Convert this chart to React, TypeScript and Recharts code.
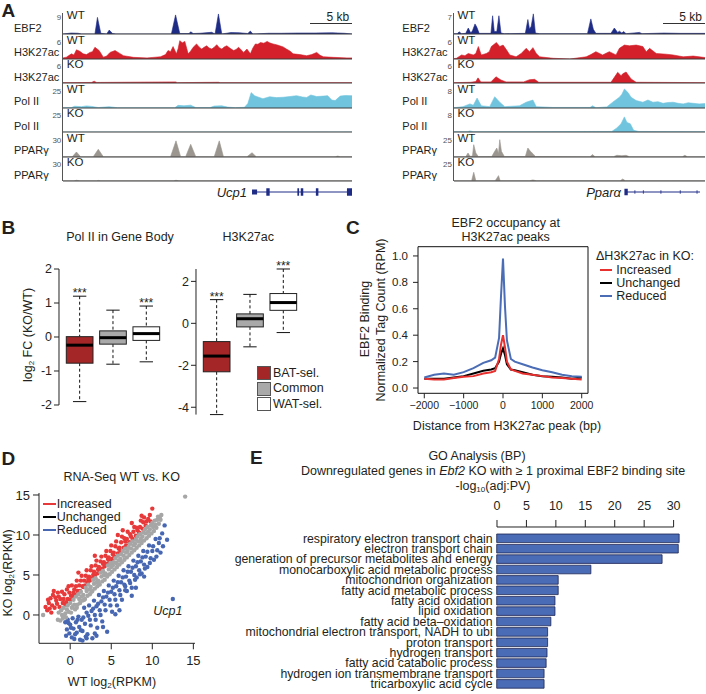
import React from 'react';
import {
  AreaChart, Area, XAxis, YAxis, ReferenceLine, ReferenceArea,
  ComposedChart, Bar, LineChart, Line, ScatterChart, Scatter, BarChart,
} from 'recharts';

const FONT = '"Liberation Sans", Arial, Helvetica, sans-serif';
const INK = '#231f20';

// ---------- A: browser tracks, each point is [kb from left edge, signal] ----------
const ucp1LenKb = 34.4;
const pparaLenKb = 29.9;
const trackNames = ['EBF2', 'H3K27ac', 'H3K27ac', 'Pol II', 'Pol II', 'PPARγ', 'PPARγ'];
const trackConds = ['WT', 'WT', 'KO', 'WT', 'KO', 'WT', 'KO'];
const trackColors = ['#1f2c86', '#d3202a', '#d3202a', '#70c4de', '#70c4de', '#9b968f', '#9b968f'];
const ucp1Scales = [9, 6, 6, 25, 25, 30, 30];
const pparaScales = [7, 6, 6, 8, 8, 25, 25];

const ucp1Ebf2Wt = [[0, 0], [1.0, 0.4], [1.8, 0.3], [2.2, 0], [3.8, 0], [4.1, 6.8], [4.5, 0.3], [5.2, 0], [5.5, 1.6], [5.9, 0.2], [6.3, 0], [12.9, 0], [13.4, 7.8], [13.9, 0.2], [15.0, 0.2], [15.2, 0.9], [15.5, 0.2], [16.3, 0.3], [17.7, 0.7], [18.1, 0], [18.5, 8.2], [18.9, 0], [20.0, 0.6], [21.0, 0.5], [22.0, 0.2], [22.3, 1.2], [22.6, 0], [24.5, 0.3], [26, 0.3], [28, 0.4], [30, 0.4], [32, 0.5], [33.5, 0.3], [34.4, 0]];
const ucp1AcWt = [[0, 0.3], [0.4, 0.5], [1.0, 1.4], [1.3, 1.1], [1.6, 2.5], [2.0, 2.1], [2.4, 1.4], [2.8, 1.2], [3.2, 1.8], [3.5, 2.0], [3.8, 3.2], [4.3, 2.3], [4.8, 0.5], [5.2, 0.8], [5.6, 1.8], [6.2, 2.3], [6.7, 1.6], [7.2, 0.9], [8.4, 0.45], [10.0, 0.3], [11.6, 0.6], [12.2, 1.2], [12.5, 2.3], [12.8, 2.0], [13.1, 3.4], [13.5, 1.4], [13.7, 2.8], [13.9, 5.0], [14.2, 4.4], [14.5, 4.8], [14.9, 1.4], [15.2, 2.2], [15.5, 3.2], [15.9, 4.1], [16.2, 3.3], [16.5, 2.7], [16.8, 3.2], [17.1, 3.6], [17.4, 3.0], [17.7, 2.7], [18.0, 3.2], [18.3, 3.9], [18.6, 3.1], [18.9, 2.7], [19.2, 3.3], [19.5, 3.6], [19.9, 2.9], [20.3, 2.3], [20.6, 2.6], [20.9, 3.2], [21.2, 2.5], [21.5, 1.8], [21.9, 2.7], [22.3, 1.4], [22.6, 3.0], [22.9, 4.1], [23.2, 4.0], [23.5, 4.5], [23.9, 4.3], [24.3, 4.8], [24.6, 4.4], [25.0, 4.1], [25.4, 3.9], [25.8, 3.6], [26.2, 3.3], [26.6, 2.7], [27.0, 2.2], [27.4, 1.4], [28.2, 1.2], [29.0, 0.9], [29.6, 1.2], [30.2, 1.8], [30.6, 1.0], [31.0, 0.6], [32.2, 0.45], [33.8, 0.3], [34.4, 0.3]];
const ucp1AcKo = [[0, 0.1], [3.4, 0.15], [3.7, 0.5], [4.0, 0.15], [13.4, 0.3], [13.6, 0.1], [18.5, 0.2], [18.7, 0.1], [34.4, 0.1]];
const ucp1PolWt = [[0, 0.3], [1.0, 0.5], [1.4, 2.0], [2.2, 1.5], [2.8, 2.4], [3.4, 1.8], [4.2, 0.5], [5.5, 1.5], [6.5, 0.3], [13.3, 0.3], [13.7, 3.0], [14.4, 2.5], [15.2, 3.2], [15.8, 0.5], [17.5, 0.5], [18.0, 2.2], [18.9, 2.5], [19.6, 1.0], [20.5, 0.4], [21.6, 0.8], [22.0, 5.0], [22.4, 17.5], [22.8, 14.0], [23.2, 12.5], [23.8, 10.5], [24.6, 12.8], [25.4, 11.8], [26.2, 12.2], [27.0, 13.0], [27.8, 14.0], [28.5, 12.5], [29.0, 12.0], [29.5, 14.8], [30.2, 13.0], [31.0, 13.5], [31.5, 14.0], [32.0, 9.0], [32.4, 8.5], [33.0, 13.5], [33.6, 14.2], [34.4, 14.0]];
const ucp1PolKo = [[0, 0], [34.4, 0.1]];
const ucp1PpargWt = [[0, 0.3], [1.1, 0.3], [1.6, 6.8], [2.1, 0.3], [3.6, 0.3], [4.2, 10.5], [4.8, 0.3], [12.8, 0.3], [13.45, 22], [14.0, 0.5], [14.6, 0.5], [15.2, 17.3], [15.8, 0.5], [18.0, 0.3], [18.6, 22], [19.1, 0.3], [21.9, 0.3], [22.5, 5.9], [23.0, 0.3], [32.4, 0.3], [32.7, 1.2], [33.0, 0.3], [34.4, 0.3]];
const ucp1PpargKo = [[0, 0.2], [1.3, 0.2], [1.6, 1.0], [2.0, 0.2], [4.0, 0.2], [4.2, 0.8], [4.5, 0.2], [13.2, 0.2], [13.45, 1.0], [13.8, 0.2], [34.4, 0.2]];

const pparaEbf2Wt = [[0, 0.1], [0.4, 0.1], [0.6, 0.7], [0.9, 0.1], [1.4, 0.2], [1.7, 1.9], [2.0, 0.3], [2.2, 1.0], [2.5, 3.2], [2.7, 2.3], [3.0, 0.2], [4.4, 0.2], [4.6, 5.8], [4.8, 0.8], [5.1, 0.8], [5.35, 5.8], [5.6, 0.3], [6.0, 0.1], [8.5, 0.2], [8.8, 4.6], [9.0, 1.5], [9.2, 2.5], [9.45, 6.4], [9.7, 0.3], [10.2, 0.1], [15.9, 0.1], [16.3, 4.8], [16.6, 1.5], [16.9, 0.2], [18.7, 0.2], [19.1, 1.9], [19.5, 0.5], [19.7, 0.9], [20.0, 0.3], [20.2, 0.8], [20.5, 0.1], [22.1, 0.5], [22.4, 0.1], [25, 0.3], [27, 0.2], [29.9, 0.2]];
const pparaAcWt = [[0, 0.1], [0.3, 0.2], [0.9, 1.1], [1.3, 0.9], [1.7, 1.5], [2.3, 1.1], [2.6, 1.5], [2.9, 3.4], [3.25, 1.1], [3.85, 1.5], [4.2, 2.0], [4.45, 3.4], [5.05, 4.5], [5.45, 3.4], [5.85, 3.8], [6.25, 2.5], [6.65, 1.1], [7.4, 0.6], [8.0, 1.5], [8.6, 2.9], [9.0, 2.0], [9.4, 3.1], [9.8, 1.5], [10.2, 0.6], [11.8, 0.2], [13.8, 0.0], [15.75, 0.6], [16.3, 1.2], [16.9, 2.0], [17.7, 1.1], [18.5, 2.0], [19.3, 1.1], [19.7, 2.9], [20.3, 3.8], [20.9, 3.6], [21.7, 3.8], [22.5, 3.4], [22.9, 2.0], [23.3, 2.9], [24.1, 1.5], [25.3, 1.3], [26.1, 1.1], [27.3, 0.6], [28.5, 0.8], [29.9, 0.4]];
const pparaAcKo = [[0, 0.1], [2.0, 0.2], [2.6, 0.4], [2.86, 1.4], [3.2, 0.3], [4.4, 0.3], [5.0, 1.7], [5.6, 0.8], [6.2, 0.3], [8.3, 0.3], [9.0, 0.9], [9.6, 1.0], [10.1, 0.2], [18.7, 0.2], [19.5, 2.9], [19.9, 2.0], [20.1, 2.5], [20.5, 3.0], [21.1, 1.1], [21.7, 0.2], [29.9, 0.1]];
const pparaPolWt = [[0, 0.1], [1.07, 0.5], [1.9, 1.5], [2.3, 1.0], [2.75, 3.6], [3.25, 0.8], [4.25, 0.5], [4.85, 4.1], [5.45, 2.1], [6.05, 0.5], [7.8, 0.8], [8.6, 2.1], [9.4, 2.9], [9.8, 0.5], [11.8, 0.2], [16.2, 0.2], [16.5, 0.8], [16.9, 0.1], [18.2, 0.4], [18.9, 2.1], [19.7, 3.9], [20.0, 5.0], [20.3, 6.9], [20.7, 5.7], [21.1, 3.9], [21.7, 2.7], [22.5, 2.1], [23.1, 2.9], [23.7, 2.1], [24.3, 2.3], [24.9, 1.7], [25.5, 2.0], [26.1, 2.1], [26.7, 1.7], [27.3, 1.5], [27.9, 1.9], [28.5, 1.7], [29.2, 1.5], [29.9, 1.6]];
const pparaPolKo = [[0, 0.1], [1.6, 0.1], [1.9, 0.4], [2.3, 0.1], [18.8, 0.2], [19.4, 1.5], [19.9, 3.0], [20.3, 5.5], [20.6, 3.5], [21.0, 3.0], [21.4, 0.6], [22.0, 0.2], [29.9, 0.1]];
const pparaPpargWt = [[0, 0.3], [1.4, 0.3], [1.67, 4.5], [1.9, 0.8], [2.2, 1.0], [2.35, 14], [2.6, 4.5], [2.9, 0.5], [4.5, 0.5], [4.85, 6.4], [5.1, 10.2], [5.3, 4.0], [5.45, 19.7], [5.65, 6.4], [6.0, 0.5], [8.5, 0.5], [8.8, 10.2], [9.1, 6.4], [9.4, 3.8], [9.7, 0.5], [16.2, 0.3], [16.5, 2.7], [16.8, 0.3], [19.0, 0.4], [19.4, 1.9], [20.0, 1.5], [20.5, 1.9], [20.9, 0.3], [27.2, 0.3], [27.5, 1.9], [27.8, 0.3], [29.9, 0.3]];
const pparaPpargKo = [[0, 0.2], [2.1, 0.3], [2.35, 9.9], [2.6, 0.3], [4.9, 0.3], [5.1, 3.0], [5.3, 6.1], [5.5, 0.3], [9.0, 0.3], [9.4, 1.2], [9.8, 0.3], [19.8, 0.3], [20.1, 2.3], [20.4, 0.3], [29.9, 0.2]];

// gene models: [kb, half height of the feature starting there]
const ucp1Gene = [[22.5, 0.35], [23.1, 0.07], [24.2, 0.55], [24.6, 0.07], [27.9, 0.55], [28.1, 0.07], [28.3, 0.55], [28.6, 0.07], [30.1, 0.55], [30.4, 0.07], [33.8, 0.55], [34.4, 0.55]];
const pparaGene = [[20.3, 0.45], [20.7, 0.07], [21.5, 0.25], [21.6, 0.07], [22.5, 0.25], [22.6, 0.07], [24.6, 0.25], [24.7, 0.07], [26.9, 0.25], [27.0, 0.07], [28.9, 0.25], [29.0, 0.07], [29.3, 0.07]];

// ---------- B: box plots ----------
const boxGroups = ['BAT-sel.', 'Common', 'WAT-sel.'];
const boxFills = ['#a52626', '#a9a9a9', '#ffffff'];
const polLow = [-1.9, -0.8, -0.73];
const polQ1 = [-0.77, -0.21, -0.1];
const polMedian = [-0.24, -0.02, 0.1];
const polQ3 = [0.01, 0.18, 0.3];
const polHigh = [1.2, 0.79, 0.91];
const polStars = ['***', '', '***'];
const acLow = [-4.35, -1.12, -0.44];
const acQ1 = [-2.31, -0.17, 0.62];
const acMedian = [-1.56, 0.22, 0.99];
const acQ3 = [-0.87, 0.45, 1.42];
const acHigh = [1.13, 1.38, 2.59];
const acStars = ['***', '', '***'];

// ---------- C: EBF2 occupancy profile ----------
const distanceBp = [-2000, -1750, -1500, -1250, -1000, -750, -500, -300, -200, -100, -50, 0, 50, 100, 200, 300, 500, 750, 1000, 1250, 1500, 1750, 2000];
const occIncreased = [0.07, 0.065, 0.065, 0.075, 0.085, 0.09, 0.11, 0.12, 0.13, 0.22, 0.33, 0.40, 0.31, 0.2, 0.14, 0.13, 0.11, 0.10, 0.09, 0.08, 0.075, 0.07, 0.065];
const occUnchanged = [0.07, 0.07, 0.07, 0.08, 0.09, 0.11, 0.13, 0.14, 0.15, 0.20, 0.26, 0.30, 0.25, 0.18, 0.14, 0.135, 0.12, 0.10, 0.09, 0.085, 0.08, 0.07, 0.08];
const occReduced = [0.08, 0.10, 0.11, 0.10, 0.12, 0.15, 0.19, 0.21, 0.23, 0.38, 0.70, 0.98, 0.62, 0.36, 0.22, 0.20, 0.18, 0.155, 0.135, 0.12, 0.10, 0.09, 0.085];

// ---------- D: RNA-seq scatter, [WT log2 RPKM, KO log2 RPKM] ----------
const increasedGenes = [[-3.0, 1.0], [-2.8, 0.6], [-2.7, 1.9], [-2.5, 0.8], [-2.4, 2.1], [-2.2, 1.2], [-2.1, 2.5], [-1.9, 0.9], [-1.8, 2.2], [-1.6, 1.4], [-1.5, 2.8], [-1.3, 1.0], [-1.2, 2.0], [-1.0, 2.9], [-0.9, 1.5], [-0.7, 2.6], [-0.6, 1.3], [-0.4, 3.2], [-0.3, 2.0], [-0.1, 2.8], [0.0, 1.9], [0.2, 3.7], [0.3, 2.4], [0.5, 3.2], [0.6, 2.5], [0.8, 4.3], [0.9, 3.0], [1.1, 3.7], [1.2, 3.0], [1.4, 4.9], [1.5, 3.6], [1.7, 4.3], [1.8, 3.7], [2.0, 5.6], [2.1, 4.1], [2.3, 4.8], [2.4, 4.3], [2.6, 6.1], [2.7, 4.6], [2.9, 5.4], [3.0, 4.9], [3.2, 6.8], [3.3, 5.2], [3.5, 6.0], [3.6, 5.5], [3.8, 7.3], [3.9, 5.8], [4.1, 6.6], [4.2, 6.1], [4.4, 8.0], [4.5, 6.4], [4.7, 7.2], [4.8, 6.7], [5.0, 8.7], [5.1, 7.0], [5.3, 7.8], [5.4, 7.3], [5.6, 9.2], [5.8, 7.7], [6.0, 8.4], [6.1, 8.0], [6.3, 9.8], [6.5, 8.4], [6.7, 9.2], [6.8, 8.7], [7.0, 10.4], [7.2, 9.1], [7.4, 9.8], [7.6, 9.5], [7.8, 11.0], [8.0, 9.9], [8.2, 10.6], [8.4, 10.3], [8.6, 11.8], [8.8, 10.8], [9.0, 12.2], [9.2, 11.2], [9.5, 12.0], [9.8, 11.7], [10.0, 13.3], [1.0, 5.3], [3.0, 7.4], [5.8, 10.0], [-2.0, 3.0],
  [-2.6, 1.5], [-2.3, 0.3], [-1.7, 1.8], [-1.4, 2.3], [-0.8, 2.0], [-0.5, 1.6], [-0.2, 3.6], [0.1, 2.4], [0.4, 2.8], [0.7, 3.6], [1.0, 2.9], [1.3, 4.3], [1.6, 3.5], [1.9, 4.9], [2.2, 4.5], [2.5, 5.6], [2.8, 5.0], [3.1, 6.2], [3.4, 5.7], [3.7, 6.7], [4.0, 6.4], [4.3, 7.4], [4.6, 7.0], [4.9, 8.0], [5.2, 7.6], [5.5, 8.6], [5.9, 8.3], [6.2, 9.1], [6.6, 9.6], [6.9, 9.5], [7.3, 10.1], [7.7, 10.4], [8.1, 10.9], [8.5, 11.0], [8.9, 11.6], [9.3, 11.7], [9.7, 12.5], [8.7, 12.4], [7.5, 11.5], [6.4, 10.6]];
const unchangedGenes = [[-3.3, 0.0], [-1.5, -0.6], [-1.4, 0.3], [-1.2, -0.7], [-1.1, 0.6], [-0.9, -0.4], [-0.8, 0.9], [-0.6, 0.2], [-0.5, -0.3], [-0.3, 1.2], [-0.2, 0.4], [0.0, 1.5], [0.1, 0.3], [0.3, 1.0], [0.4, 1.9], [0.6, 0.7], [0.7, 2.3], [0.9, 1.3], [1.0, 2.6], [1.2, 1.5], [1.3, 2.9], [1.5, 1.8], [1.6, 2.5], [1.8, 2.0], [1.9, 3.4], [2.1, 2.4], [2.2, 3.8], [2.4, 2.6], [2.5, 3.5], [2.7, 3.0], [2.8, 4.4], [3.0, 3.3], [3.1, 4.6], [3.3, 3.6], [3.4, 4.3], [3.6, 3.8], [3.7, 5.3], [3.9, 4.2], [4.0, 5.5], [4.2, 4.4], [4.3, 5.2], [4.5, 4.8], [4.6, 6.2], [4.8, 5.1], [4.9, 6.5], [5.1, 5.4], [5.2, 6.2], [5.4, 5.7], [5.5, 7.1], [5.7, 6.0], [5.8, 7.4], [6.0, 6.3], [6.1, 7.0], [6.3, 6.6], [6.4, 8.0], [6.6, 6.9], [6.7, 8.3], [6.9, 7.2], [7.0, 8.0], [7.2, 7.5], [7.3, 8.9], [7.5, 7.8], [7.6, 9.2], [7.8, 8.1], [7.9, 8.9], [8.1, 8.4], [8.2, 9.8], [8.4, 8.7], [8.5, 10.1], [8.7, 9.0], [8.8, 9.8], [9.0, 9.3], [9.1, 10.7], [9.3, 9.6], [9.4, 11.0], [9.6, 9.9], [9.7, 10.7], [9.9, 10.2], [10.0, 11.5], [10.2, 10.5], [10.3, 11.8], [10.5, 10.9], [10.6, 11.9], [10.8, 11.4], [10.9, 12.2], [11.1, 12.5], [14.0, 14.8],
  [-1.0, 0.0], [-0.7, -0.2], [-0.4, 0.7], [0.2, 0.9], [0.5, 1.3], [0.8, 0.9], [1.1, 2.0], [1.4, 2.3], [1.7, 1.9], [2.0, 3.0], [2.3, 3.2], [2.6, 2.9], [2.9, 3.9], [3.2, 4.1], [3.5, 3.9], [3.8, 4.8], [4.1, 5.0], [4.4, 5.0], [4.7, 5.7], [5.0, 6.0], [5.3, 6.6], [5.6, 6.5], [5.9, 6.8], [6.2, 7.6], [6.5, 7.4], [6.8, 7.8], [7.1, 8.5], [7.4, 8.3], [7.7, 8.7], [8.0, 9.4], [8.3, 9.2], [8.6, 9.5], [8.9, 10.3], [9.2, 10.2], [9.5, 10.4], [9.8, 11.2], [10.1, 11.0], [10.4, 11.3], [10.7, 12.3], [11.0, 11.9]];
const reducedGenes = [[-0.6, -0.9], [-0.4, -1.8], [-0.3, -0.6], [-0.1, -2.3], [0.0, -1.2], [0.2, -2.8], [0.3, -0.4], [0.4, -1.7], [0.5, -3.0], [0.7, -0.9], [0.8, -2.2], [1.0, -0.2], [1.1, -1.5], [1.2, -3.1], [1.4, -0.6], [1.5, -2.0], [1.7, 0.9], [1.8, -1.1], [2.0, 0.3], [2.1, -2.4], [2.3, 1.2], [2.4, -0.6], [2.6, 0.5], [2.7, -2.9], [2.9, 1.8], [3.0, 0.0], [3.2, 1.1], [3.3, -1.6], [3.5, 2.5], [3.6, 0.6], [3.8, 1.7], [3.9, -0.8], [4.1, 3.0], [4.2, 1.3], [4.4, 2.3], [4.5, -2.1], [4.7, 3.7], [4.8, 1.9], [5.0, 2.9], [5.1, 0.4], [5.3, 4.3], [5.4, 2.6], [5.6, 3.6], [5.7, 1.2], [5.9, 4.9], [6.0, 3.1], [6.2, 4.1], [6.3, 1.9], [6.5, 5.6], [6.6, 3.8], [6.8, 4.8], [6.9, 3.0], [7.1, 6.1], [7.2, 4.3], [7.4, 5.4], [7.5, 3.4], [7.7, 6.8], [7.8, 5.0], [8.0, 6.1], [8.1, 4.7], [8.3, 7.4], [8.4, 5.6], [8.6, 6.7], [8.7, 5.2], [8.9, 8.0], [9.0, 6.3], [9.2, 7.3], [9.4, 6.0], [9.6, 8.7], [9.8, 7.1], [10.0, 8.0], [10.2, 6.9], [10.4, 9.5], [10.6, 8.1], [10.8, 9.0], [11.0, 7.8], [11.2, 10.2], [11.5, 11.2], [11.8, 9.4], [12.5, 2.0], [6.7, 3.1], [7.5, 2.4], [4.0, -1.5], [3.2, -2.6], [2.0, -2.9], [5.5, 0.1], [9.0, 4.8],
  [-0.5, -2.6], [-0.2, -1.0], [0.1, -1.6], [0.6, -2.4], [0.9, -0.6], [1.3, -1.9], [1.6, -0.3], [1.9, -2.7], [2.2, -0.1], [2.5, -1.3], [2.8, 0.8], [3.1, -0.6], [3.4, 1.4], [3.7, 0.0], [4.0, 2.2], [4.3, 0.6], [4.6, 2.8], [4.9, 1.2], [5.2, 3.4], [5.5, 1.9], [5.8, 4.1], [6.1, 2.5], [6.4, 4.7], [6.7, 3.6], [7.0, 5.4], [7.3, 4.0], [7.6, 5.9], [7.9, 4.4], [8.2, 6.6], [8.5, 5.1], [8.8, 7.2], [9.1, 5.8], [9.4, 7.9], [9.7, 6.5], [10.1, 8.6], [10.5, 7.3], [10.9, 9.6], [11.3, 8.6], [1.5, -3.2], [3.0, -2.3], [6.0, 0.6], [8.0, 3.4]];

// ---------- E: GO terms ----------
const goTerms = ['respiratory electron transport chain', 'electron transport chain', 'generation of precursor metabolites and energy', 'monocarboxylic acid metabolic process', 'mitochondrion organization', 'fatty acid metabolic process', 'fatty acid oxidation', 'lipid oxidation', 'fatty acid beta\u2013oxidation', 'mitochondrial electron transport, NADH to ubi', 'proton transport', 'hydrogen transport', 'fatty acid catabolic process', 'hydrogen ion transmembrane transport', 'tricarboxylic acid cycle'];
const goScores = [31.0, 30.85, 28.1, 16.0, 10.45, 10.45, 9.9, 9.9, 9.2, 8.65, 8.65, 8.55, 8.4, 8.05, 8.05];
const goTicks = [0, 5, 10, 15, 20, 25, 30];

const TRACK_BASE0 = 34;
const TRACK_STEP = 24.5;
const NAVY = '#1f2c86';

function T({ x, y, children, size = 12.5, align = 'left', bold = false, italic = false, rot = false, color = INK }: any) {
  const tx = align === 'left' ? '0' : align === 'right' ? '-100%' : '-50%';
  return (
    <div
      style={{
        position: 'absolute', left: x, top: y, whiteSpace: 'nowrap', lineHeight: 1,
        fontSize: size, fontWeight: bold ? 700 : 400, fontStyle: italic ? 'italic' : 'normal', color,
        transform: rot ? 'translate(-50%, -50%) rotate(-90deg)' : `translate(${tx}, -50%)`,
      }}
    >
      {children}
    </div>
  );
}

const Sub = ({ children }: any) => (
  <span style={{ fontSize: '0.65em', verticalAlign: '-0.3em', lineHeight: 0 }}>{children}</span>
);

function Track({ points, max, color, lenKb, width }: any) {
  const data = points.map(([kb, v]: number[]) => ({ kb, v }));
  return (
    <AreaChart width={width} height={25} data={data} margin={{ top: 2, right: 0, bottom: 1, left: 0 }}>
      <XAxis type="number" dataKey="kb" domain={[0, lenKb]} hide />
      <YAxis type="number" domain={[0, max]} hide allowDataOverflow />
      <Area type="linear" dataKey="v" stroke={color} strokeWidth={0.6} fill={color} fillOpacity={1} dot={false} activeDot={false} isAnimationActive={false} />
      <ReferenceLine y={0} stroke="#3c3c3c" strokeWidth={1} />
    </AreaChart>
  );
}

function GeneModel({ parts, lenKb, width }: any) {
  const data = parts.map(([kb, h]: number[]) => ({ kb, band: [-h, h] }));
  return (
    <AreaChart width={width} height={14} data={data} margin={{ top: 0, right: 0, bottom: 0, left: 0 }}>
      <XAxis type="number" dataKey="kb" domain={[0, lenKb]} hide />
      <YAxis type="number" domain={[-1, 1]} hide />
      <Area type="stepAfter" dataKey="band" stroke="none" fill={NAVY} fillOpacity={1} dot={false} activeDot={false} isAnimationActive={false} />
    </AreaChart>
  );
}

function Locus({ axisX, width, lenKb, tracks, scales, nameX, parts, gene }: any) {
  const right = axisX + width;
  return (
    <>
      <div style={{ position: 'absolute', left: axisX - 1, top: 13, width: 1, height: 168, background: '#555' }} />
      {tracks.map((pts: number[][], i: number) => {
        const base = TRACK_BASE0 + i * TRACK_STEP;
        return (
          <React.Fragment key={i}>
            <T x={nameX} y={base - 6.5} size={11}>{trackNames[i]}</T>
            <T x={axisX - 2} y={base - 15.8} size={8} align="right" color="#555">{scales[i]}</T>
            <div style={{ position: 'absolute', left: axisX, top: base - 24 }}>
              <Track points={pts} max={scales[i]} color={trackColors[i]} lenKb={lenKb} width={width} />
            </div>
            <T x={axisX + 3.5} y={base - 18} size={11.5}>{trackConds[i]}</T>
          </React.Fragment>
        );
      })}
      <div style={{ position: 'absolute', left: right - 42, top: 22.5, width: 42, height: 1, background: '#333' }} />
      <T x={right - 3} y={16.5} align="right" size={12}>5 kb</T>
      <div style={{ position: 'absolute', left: axisX, top: 185 }}>
        <GeneModel parts={parts} lenKb={lenKb} width={width} />
      </div>
      <T x={gene.x} y={192} italic align="right" size={13}>{gene.name}</T>
    </>
  );
}

function BoxShape(props: any) {
  const { x, y, width, height, payload } = props;
  if (x == null || payload == null) return null;
  const top = Math.min(y, y + height);
  const h = Math.abs(height);
  const [lo, hi] = payload.range;
  const py = (v: number) => top + ((hi - v) / (hi - lo)) * h;
  const cx = x + width / 2;
  const cap = width / 4;
  return (
    <g>
      <line x1={cx} x2={cx} y1={py(hi)} y2={py(payload.q3)} stroke="#111" strokeDasharray="3 2.5" />
      <line x1={cx} x2={cx} y1={py(payload.q1)} y2={py(lo)} stroke="#111" strokeDasharray="3 2.5" />
      <line x1={cx - cap} x2={cx + cap} y1={py(hi)} y2={py(hi)} stroke="#111" />
      <line x1={cx - cap} x2={cx + cap} y1={py(lo)} y2={py(lo)} stroke="#111" />
      <rect x={x} y={py(payload.q3)} width={width} height={py(payload.q1) - py(payload.q3)} fill={payload.fill} stroke="#222" />
      <line x1={x} x2={x + width} y1={py(payload.med)} y2={py(payload.med)} stroke="#000" strokeWidth={3} />
      {payload.stars ? (
        <text x={cx} y={py(hi) + 1} textAnchor="middle" fontSize={12} fill={INK} fontFamily={FONT}>{payload.stars}</text>
      ) : null}
    </g>
  );
}

const boxRows = (lo: number[], q1: number[], med: number[], q3: number[], hi: number[], stars: string[]) =>
  boxGroups.map((g, i) => ({ group: g, range: [lo[i], hi[i]], q1: q1[i], med: med[i], q3: q3[i], stars: stars[i], fill: boxFills[i] }));

function BoxPlot({ rows, domain, ticks, plotH, yWidth }: any) {
  return (
    <ComposedChart width={yWidth + 108.6 + 2} height={25 + plotH + 10} data={rows} margin={{ top: 25, right: 2, bottom: 10, left: 0 }}>
      <XAxis dataKey="group" type="category" hide padding={{ left: 4.3, right: 4.3 }} />
      <YAxis type="number" domain={domain} ticks={ticks} width={yWidth} tickSize={5} tickMargin={2} stroke="#222" tick={{ fontSize: 12.5, fill: INK, fontFamily: FONT }} interval={0} />
      <Bar dataKey="range" barSize={26.7} shape={BoxShape} isAnimationActive={false} />
    </ComposedChart>
  );
}

const GoTick = (p: any) => (
  <text x={p.x} y={p.y} dy="0.36em" textAnchor="end" fontSize={12.3} fill={INK} fontFamily={FONT}>{p.payload.value}</text>
);

const dot = (color: string) => (p: any) => <circle cx={p.cx} cy={p.cy} r={2.2} fill={color} />;
const toXY = (pts: number[][]) => pts.map(([x, y]) => ({ x, y }));

const occupancy = distanceBp.map((bp, i) => ({ bp, increased: occIncreased[i], unchanged: occUnchanged[i], reduced: occReduced[i] }));
const goData = goTerms.map((term, i) => ({ term, score: goScores[i] }));

const legendLine = (x: number, y: number, color: string) => (
  <div style={{ position: 'absolute', left: x, top: y - 1, width: 12.6, height: 2, background: color }} />
);

export default function App() {
  return (
    <div style={{ position: 'absolute', left: 0, top: 0, width: 706, height: 694, background: '#fff', fontFamily: FONT, color: INK, overflow: 'hidden' }}>
      {/* panel letters */}
      <T x={1.5} y={9.7} size={19} bold>A</T>
      <T x={1.5} y={227} size={19} bold>B</T>
      <T x={346} y={226.7} size={19} bold>C</T>
      <T x={1.5} y={457.5} size={19} bold>D</T>
      <T x={250} y={456.5} size={19} bold>E</T>

      {/* A */}
      <Locus axisX={63.3} width={289} lenKb={ucp1LenKb} nameX={14} scales={ucp1Scales}
        tracks={[ucp1Ebf2Wt, ucp1AcWt, ucp1AcKo, ucp1PolWt, ucp1PolKo, ucp1PpargWt, ucp1PpargKo]}
        parts={ucp1Gene} gene={{ name: 'Ucp1', x: 247 }} />
      <Locus axisX={454} width={251} lenKb={pparaLenKb} nameX={402.3} scales={pparaScales}
        tracks={[pparaEbf2Wt, pparaAcWt, pparaAcKo, pparaPolWt, pparaPolKo, pparaPpargWt, pparaPpargKo]}
        parts={pparaGene} gene={{ name: 'Pparα', x: 621 }} />

      {/* B */}
      <T x={120} y={236.7} align="center">Pol II in Gene Body</T>
      <T x={248.3} y={236.7} align="center">H3K27ac</T>
      <T x={28} y={335} rot>log<Sub>2</Sub> FC (KO/WT)</T>
      <div style={{ position: 'absolute', left: 20.3, top: 244 }}>
        <BoxPlot rows={boxRows(polLow, polQ1, polMedian, polQ3, polHigh, polStars)} domain={[-2, 2]} ticks={[-2, -1, 0, 1, 2]} plotH={136} yWidth={39} />
      </div>
      <div style={{ position: 'absolute', left: 166, top: 244 }}>
        <BoxPlot rows={boxRows(acLow, acQ1, acMedian, acQ3, acHigh, acStars)} domain={[-4.35, 2]} ticks={[-4, -2, 0, 2]} plotH={145.6} yWidth={30} />
      </div>
      {boxGroups.map((g, i) => (
        <React.Fragment key={g}>
          <div style={{ position: 'absolute', left: 257, top: 366 + i * 15.5, width: 12, height: 12, background: boxFills[i], border: '1px solid #555' }} />
          <T x={273} y={373 + i * 15.3}>{g}</T>
        </React.Fragment>
      ))}

      {/* C */}
      <T x={505.7} y={222.7} align="center">EBF2 occupancy at</T>
      <T x={505.7} y={237.3} align="center">H3K27ac peaks</T>
      <T x={365} y={319} rot>EBF2 Binding</T>
      <T x={380.5} y={320} rot>Normalized Tag Count (RPM)</T>
      <div style={{ position: 'absolute', left: 378, top: 240 }}>
        <LineChart width={220} height={180} data={occupancy} margin={{ top: 6.7, right: 10, bottom: 0, left: 0 }}>
          <XAxis type="number" dataKey="bp" domain={[-2160, 2160]} ticks={[-2000, -1000, 0, 1000, 2000]} height={26.7}
            tickFormatter={(v: number) => (v < 0 ? `\u2212${Math.abs(v)}` : `${v}`)} axisLine={false} tickSize={5} tickMargin={3}
            stroke="#222" tick={{ fontSize: 10.5, fill: INK, fontFamily: FONT }} interval={0} />
          <YAxis type="number" domain={[-0.04, 1.07]} ticks={[0, 0.2, 0.4, 0.6, 0.8, 1.0]} width={40} axisLine={false}
            tickFormatter={(v: number) => v.toFixed(1)} tickSize={5} tickMargin={5} stroke="#222"
            tick={{ fontSize: 11.5, fill: INK, fontFamily: FONT }} interval={0} />
          <ReferenceArea x1={-2160} x2={2160} y1={-0.04} y2={1.07} fill="none" stroke="#111" strokeWidth={1} />
          <Line type="linear" dataKey="unchanged" stroke="#000" strokeWidth={2} dot={false} isAnimationActive={false} />
          <Line type="linear" dataKey="increased" stroke="#e8302f" strokeWidth={2} dot={false} isAnimationActive={false} />
          <Line type="linear" dataKey="reduced" stroke="#4a6db5" strokeWidth={2} dot={false} isAnimationActive={false} />
        </LineChart>
      </div>
      <T x={507} y={425.7} align="center">Distance from H3K27ac peak (bp)</T>
      <T x={596} y={256}>ΔH3K27ac in KO:</T>
      {legendLine(599.7, 269.5, '#e8302f')}
      {legendLine(599.7, 282.8, '#000')}
      {legendLine(599.7, 296.1, '#4a6db5')}
      <T x={616.3} y={269.5}>Increased</T>
      <T x={616.3} y={282.8}>Unchanged</T>
      <T x={616.3} y={296.1}>Reduced</T>

      {/* D */}
      <T x={121.7} y={476.7} align="center">RNA-Seq WT vs. KO</T>
      <div style={{ position: 'absolute', left: 11.3, top: 480 }}>
        <ScatterChart width={194} height={188.3} margin={{ top: 13, right: 10, bottom: 0, left: 0 }}>
          <XAxis type="number" dataKey="x" domain={[-3.8, 15.2]} ticks={[0, 5, 10, 15]} height={25} tickSize={6} tickMargin={6}
            stroke="#222" tick={{ fontSize: 13, fill: INK, fontFamily: FONT }} interval={0} />
          <YAxis type="number" dataKey="y" domain={[-3.54, 15.25]} ticks={[0, 5, 10, 15]} width={28} tickSize={6} tickMargin={3}
            stroke="#222" tick={{ fontSize: 13, fill: INK, fontFamily: FONT }} interval={0} />
          <Scatter data={toXY(increasedGenes)} shape={dot('#e8393a')} isAnimationActive={false} />
          <Scatter data={toXY(reducedGenes)} shape={dot('#4767b3')} isAnimationActive={false} />
          <Scatter data={toXY(unchangedGenes)} shape={dot('#a6a6a6')} isAnimationActive={false} />
        </ScatterChart>
      </div>
      {legendLine(43.3, 504.3, '#e8393a')}
      {legendLine(43.3, 517.3, '#000')}
      {legendLine(43.3, 530, '#4767b3')}
      <T x={56.7} y={504.3}>Increased</T>
      <T x={56.7} y={517.3}>Unchanged</T>
      <T x={56.7} y={530}>Reduced</T>
      <T x={153.3} y={611} italic>Ucp1</T>
      <T x={112} y={682} align="center">WT log<Sub>2</Sub>(RPKM)</T>
      <T x={8} y={572.5} rot>KO log<Sub>2</Sub>(RPKM)</T>

      {/* E */}
      <T x={477} y={455.7} align="center">GO Analysis (BP)</T>
      <T x={493} y={471} align="center">Downregulated genes in <i>Ebf2</i> KO with ≥ 1 proximal EBF2 binding site</T>
      <T x={493} y={486} align="center">-log<Sub>10</Sub>(adj:PV)</T>
      <div style={{ position: 'absolute', left: 486.7, top: 491.7 }}>
        <BarChart layout="vertical" width={198.6} height={37} data={[{ term: '', score: 0 }]} margin={{ top: 0, right: 12, bottom: 0, left: 10 }}>
          <XAxis type="number" orientation="top" domain={[0, 30]} ticks={goTicks} height={35} tickSize={7} tickMargin={10}
            stroke="#222" tick={{ fontSize: 12.5, fill: INK, fontFamily: FONT }} interval={0} />
          <YAxis type="category" dataKey="term" hide />
          <Bar dataKey="score" isAnimationActive={false} />
        </BarChart>
      </div>
      <div style={{ position: 'absolute', left: 226, top: 526 }}>
        <BarChart layout="vertical" width={270.7 + 185.4 + 5} height={170} data={goData} margin={{ top: 7, right: 5, bottom: 7, left: 0 }}>
          <XAxis type="number" domain={[0, 31.5]} hide />
          <YAxis type="category" dataKey="term" width={270.7} tickSize={0} tickMargin={4} axisLine={false} tickLine={false} interval={0}
            tick={GoTick} />
          <Bar dataKey="score" barSize={8.6} fill="#4a6bb6" stroke="#1d2452" strokeWidth={0.8} isAnimationActive={false} />
        </BarChart>
      </div>
    </div>
  );
}
